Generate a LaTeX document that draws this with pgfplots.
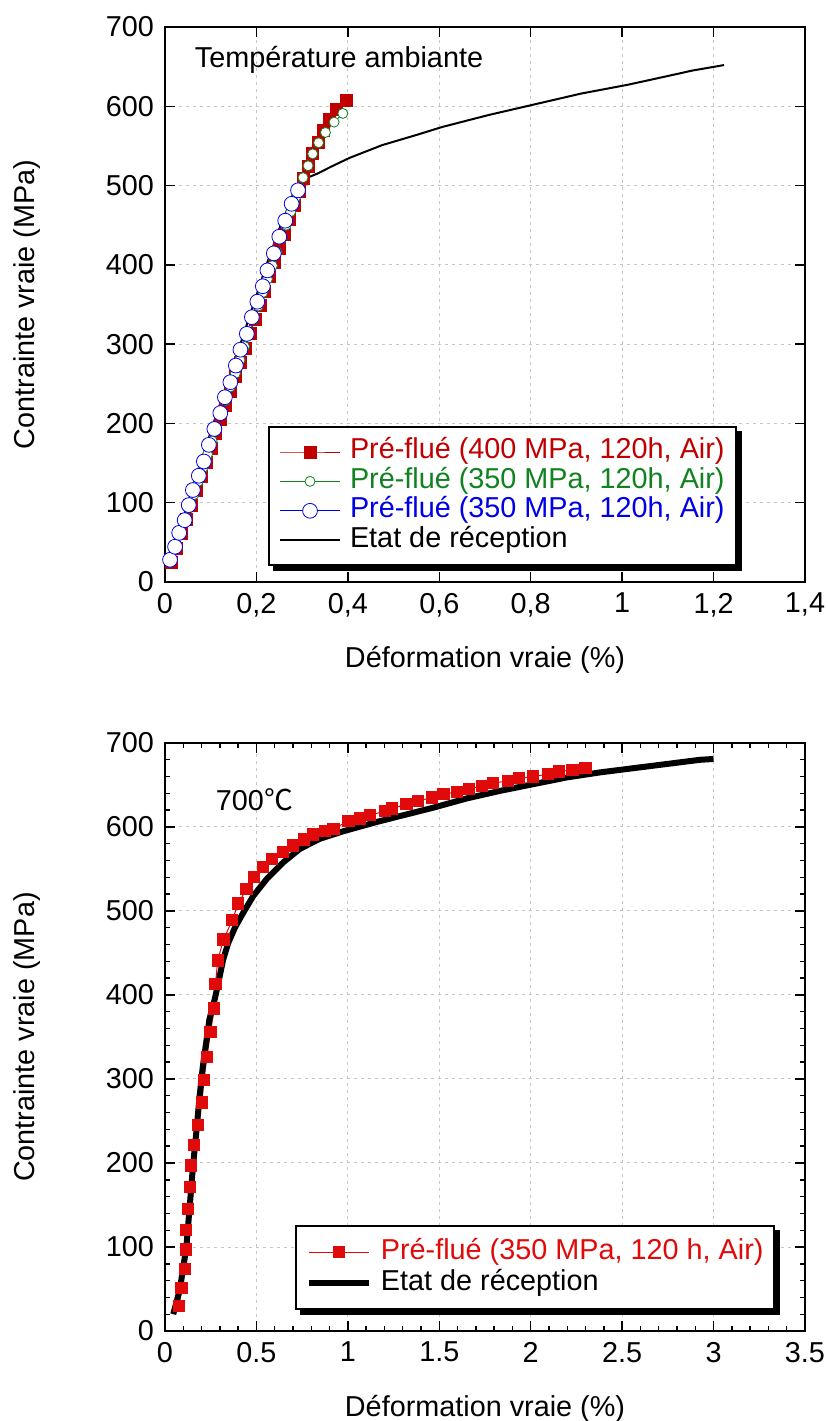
\documentclass[border=0pt]{standalone}
\usepackage{pgfplots}
\pgfplotsset{compat=1.18}
\usepackage{fontspec}
\setmainfont{Liberation Sans}
\newfontfamily\cjk{Noto Sans CJK SC}
\definecolor{cred}{RGB}{192,0,0}
\definecolor{cgreen}{RGB}{16,130,32}
\definecolor{cblue}{RGB}{0,0,230}
\definecolor{bred}{RGB}{225,10,10}
\newcommand{\fs}{\fontsize{14.4}{17}\selectfont}
\pgfplotsset{
  myax/.style={
    scale only axis, width=320pt,
    axis line style={line width=1pt},
    tick align=inside,
    major tick length=5pt, minor tick length=2.5pt,
    every tick/.style={black, line width=0.7pt},
    grid=major,
    major grid style={gray!45, line width=0.5pt, dash pattern=on 1.5pt off 2pt},
    tick label style={font=\fs},
    /pgf/number format/assume math mode=true,
    ymin=0, ymax=700, ytick={0,100,200,300,400,500,600,700},
    yticklabel style={xshift=-2pt},
    xticklabel style={yshift=-2pt},
    every axis y label/.style={at={(rel axis cs:0,0.5)}, xshift=-69pt, rotate=90, anchor=center, font=\fs},
    every axis x label/.style={at={(rel axis cs:0.5,0)}, yshift=-39pt, anchor=center, font=\fs},
    legend cell align=left,
    legend image code/.code={\draw[mark repeat=2,mark phase=2,##1] plot coordinates {(0pt,0pt) (15pt,0pt) (30pt,0pt)};},
  }
}
\begin{document}
\begin{tikzpicture}
\useasboundingbox (-82.5pt,-45pt) rectangle (331pt,665.5pt);
% ---------------- top axis
\begin{axis}[myax, height=277.5pt, at={(0pt,374.5pt)}, anchor=south west,
  xmin=0, xmax=1.4, xtick={0,0.2,0.4,0.6,0.8,1,1.2,1.4},
  /pgf/number format/use comma,
  xlabel={Déformation vraie (\%)}, ylabel={Contrainte vraie (MPa)},
  legend style={name=leg1, at={(rel axis cs:0.161,0.029)}, anchor=south west, draw=black, line width=1pt, fill=white,
    font=\fs, inner xsep=5pt, inner ysep=5pt,
    nodes={inner sep=0.5pt, text height=10.3pt, text depth=3.4pt},
    /tikz/every odd column/.append style={column sep=4pt}},
]
\addplot[color=cred, line width=0.4pt, mark=square*, mark size=3pt, mark options={solid, fill=cred, draw=cred}] coordinates {
(0.015,25) (0.026,43) (0.036,61) (0.047,79) (0.058,97) (0.069,115) (0.079,133) (0.090,151) (0.101,169) (0.111,187)
(0.122,205) (0.133,223) (0.144,241) (0.154,259) (0.165,277) (0.176,295) (0.186,313) (0.197,331) (0.208,349) (0.218,367)
(0.229,385) (0.240,403) (0.251,421) (0.261,439) (0.272,457) (0.283,475) (0.293,493) (0.302,509) (0.313,524) (0.323,540)
(0.335,555) (0.347,570) (0.359,583) (0.376,596) (0.397,607)};
\addlegendentry{\textcolor{cred}{Pré-flué (400 MPa, 120h, Air)}}
\addplot[color=cgreen, line width=0.4pt, mark=*, mark size=2.5pt, mark options={solid, fill=white, draw=cgreen}] coordinates {
(0.012,25) (0.022,42) (0.032,59) (0.042,76) (0.052,93) (0.063,110) (0.073,127) (0.083,144) (0.093,161) (0.103,178)
(0.113,195) (0.123,212) (0.133,229) (0.143,246) (0.154,263) (0.164,280) (0.174,297) (0.184,314) (0.194,331) (0.204,348)
(0.214,365) (0.224,382) (0.235,399) (0.245,416) (0.255,433) (0.265,450) (0.275,467) (0.285,484) (0.293,496) (0.302,510)
(0.313,525) (0.323,540) (0.336,554) (0.351,567) (0.370,580) (0.389,591)};
\addlegendentry{\textcolor{cgreen}{Pré-flué (350 MPa, 120h, Air)}}
\addplot[color=cblue, line width=0.4pt, mark=*, mark size=3.7pt, mark options={solid, fill=white, draw=cblue}] coordinates {
(0.011,28) (0.022,44.5) (0.031,62) (0.043,78) (0.052,97) (0.061,116) (0.074,134) (0.085,152) (0.096,173) (0.108,193)
(0.121,213) (0.131,233) (0.143,252) (0.155,273) (0.165,293) (0.179,313) (0.190,334) (0.202,353.5) (0.214,373) (0.224,393)
(0.238,414.5) (0.250,435.5) (0.263,455.7) (0.277,477) (0.291,494)};
\addlegendentry{\textcolor{cblue}{Pré-flué (350 MPa, 120h, Air)}}
\addplot[color=black, line width=1pt, mark=none] coordinates {
(0.008,21) (0.05,100) (0.106,200) (0.165,300) (0.222,400) (0.253,450) (0.275,480) (0.289,495) (0.300,504) (0.312,510)
(0.333,515) (0.364,524) (0.404,535) (0.475,551) (0.551,564) (0.607,574) (0.708,589) (0.768,597) (0.910,616) (1.011,627)
(1.051,632) (1.122,641) (1.153,645) (1.223,652)};
\addlegendentry{Etat de réception}
\node[anchor=west, font=\fs] at (axis cs:0.05,658) {Température ambiante};
\end{axis}
\fill[black] ([xshift=2.5pt,yshift=-2.5pt]leg1.south west) rectangle ([xshift=2.5pt]leg1.south east);
\fill[black] ([yshift=-2.5pt]leg1.south east) rectangle ([xshift=2.5pt,yshift=-2.5pt]leg1.north east);
% ---------------- bottom axis
\begin{axis}[myax, height=294pt, at={(0pt,0pt)}, anchor=south west,
  xmin=0, xmax=3.5, xtick={0,0.5,1,1.5,2,2.5,3,3.5},
  minor x tick num=4, minor y tick num=4,
  xlabel={Déformation vraie (\%)}, ylabel={Contrainte vraie (MPa)},
  legend style={name=leg2, at={(rel axis cs:0.203,0.036)}, anchor=south west, draw=black, line width=1pt, fill=white,
    font=\fs, inner xsep=5pt, inner ysep=5pt,
    nodes={inner sep=0.5pt, text height=10.8pt, text depth=3.8pt},
    /tikz/every odd column/.append style={column sep=4pt}},
]
\addplot[color=bred, line width=0.5pt, mark=square*, mark size=2.8pt, mark options={solid, fill=bred, draw=bred}] coordinates {
(0.078,30) (0.090,51) (0.108,74) (0.117,97) (0.117,120) (0.126,145) (0.135,171) (0.144,197) (0.159,221) (0.180,245)
(0.202,272) (0.213,299) (0.229,326) (0.249,356) (0.270,384) (0.276,413) (0.288,441) (0.320,466) (0.368,489) (0.400,509)
(0.446,526) (0.486,540) (0.538,552) (0.583,562) (0.644,570) (0.702,578) (0.760,585) (0.811,591) (0.876,595) (0.921,598)
(1.003,607) (1.067,610) (1.121,614) (1.203,619) (1.240,622) (1.321,627) (1.385,631) (1.459,635) (1.523,639) (1.598,642)
(1.664,645) (1.732,649) (1.793,652) (1.877,655) (1.938,658) (2.014,660) (2.096,663) (2.156,666) (2.229,668) (2.300,670)};
\addlegendentry{\textcolor{bred}{Pré-flué (350 MPa, 120 h, Air)}}
\addplot[color=black, line width=3pt, mark=none] coordinates {
(0.045,20) (0.081,49) (0.117,100) (0.135,148) (0.153,196) (0.171,236) (0.189,279) (0.207,315) (0.225,343) (0.243,371)
(0.272,395) (0.296,419) (0.318,442) (0.346,462) (0.382,480) (0.428,498) (0.483,518) (0.556,538) (0.647,558) (0.738,574)
(0.847,586) (0.976,595) (1.158,606) (1.285,613) (1.467,623) (1.650,634) (1.832,643) (2.014,651) (2.197,659) (2.379,665)
(2.561,670) (2.744,675) (2.926,680) (3.000,681)};
\addlegendentry{Etat de réception}
\node[anchor=west, font=\fs] at (axis cs:0.24,633) {700{\cjk ℃}};
\end{axis}
\fill[black] ([xshift=2.5pt,yshift=-2.5pt]leg2.south west) rectangle ([xshift=2.5pt]leg2.south east);
\fill[black] ([yshift=-2.5pt]leg2.south east) rectangle ([xshift=2.5pt,yshift=-2.5pt]leg2.north east);
\end{tikzpicture}
\end{document}
